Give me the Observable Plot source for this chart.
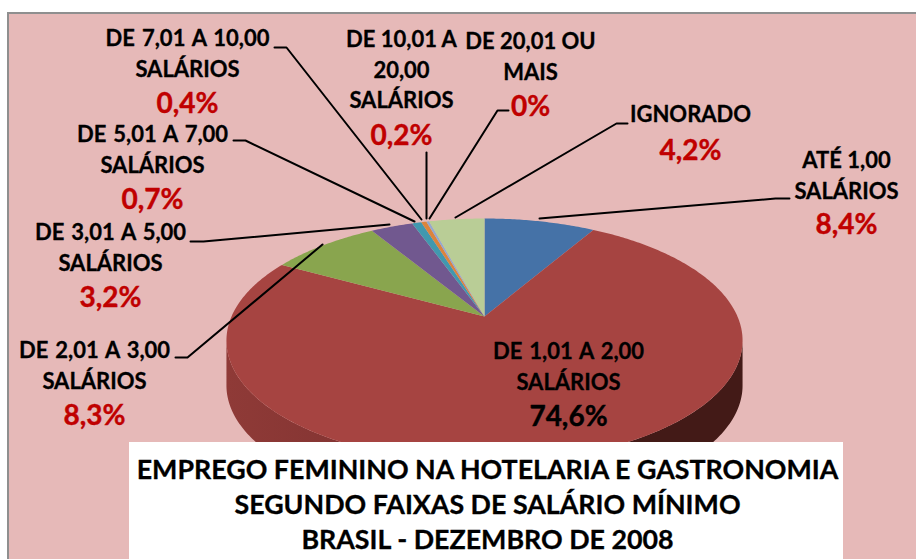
<!DOCTYPE html>
<html>
<head>
<meta charset="utf-8">
<script src="https://cdn.jsdelivr.net/npm/d3@7"></script>
<script src="https://cdn.jsdelivr.net/npm/@observablehq/plot@0.6"></script>
<style>
html,body{margin:0;padding:0;background:#fff;}
svg{display:block;}
.wide text{word-spacing:1.7px;}
</style>
</head>
<body>
<div id="chart"></div>
<script>
// Data
const categories = ["ATÉ 1,00 SALÁRIOS","DE 1,01 A 2,00 SALÁRIOS","DE 2,01 A 3,00 SALÁRIOS","DE 3,01 A 5,00 SALÁRIOS","DE 5,01 A 7,00 SALÁRIOS","DE 7,01 A 10,00 SALÁRIOS","DE 10,01 A 20,00 SALÁRIOS","DE 20,01 OU MAIS","IGNORADO"];
const shares = [8.4,74.6,8.3,3.2,0.7,0.4,0.2,0,4.2];
const shareLabels = ["8,4%","74,6%","8,3%","3,2%","0,7%","0,4%","0,2%","0%","4,2%"];
const sliceColors = ["#4572A7","#A64441","#89A54E","#71588F","#4198AF","#DB843D","#93A9CF","#D19392","#B9CD96"];
const titleLines = ["EMPREGO FEMININO NA HOTELARIA E GASTRONOMIA","SEGUNDO FAIXAS DE SALÁRIO MÍNIMO","BRASIL - DEZEMBRO DE 2008"];

// Layout of annotations (text lines per category, and leader elbows)
const labelLines = [
  {i:0,lines:["ATÉ 1,00","SALÁRIOS"],x:846,y:[160,191],py:225},
  {i:1,lines:["DE 1,01 A 2,00","SALÁRIOS"],x:568,y:[351,382],py:417,dark:true},
  {i:2,lines:["DE 2,01 A 3,00","SALÁRIOS"],x:94,y:[350,381],py:416},
  {i:3,lines:["DE 3,01 A 5,00","SALÁRIOS"],x:110,y:[232,263],py:298},
  {i:4,lines:["DE 5,01 A 7,00","SALÁRIOS"],x:152,y:[134,165],py:200},
  {i:5,lines:["DE 7,01 A 10,00","SALÁRIOS"],x:187,y:[38,69],py:104},
  {i:6,lines:["DE 10,01 A","20,00","SALÁRIOS"],x:401,y:[39,70,100],py:136},
  {i:7,lines:["DE 20,01 OU","MAIS"],x:530,y:[41,72],py:107},
  {i:8,lines:["IGNORADO"],x:690,y:[114],py:151}
];
const leaders = [
  {i:0,points:[[539,218],[775,198],[789,198]]},
  {i:2,points:[[322,244],[187,357],[175,357]]},
  {i:3,points:[[389,224],[203,241],[190,241]]},
  {i:4,points:[[414,221],[245,140],[233,140]]},
  {i:5,points:[[421,219],[286,47],[274,47]]},
  {i:6,points:[[426,218],[426,152]]},
  {i:7,points:[[429,218],[497,110],[508,110]]},
  {i:8,points:[[455,217],[616,123],[627,123]]}
];

// Perspective pie projection
const cx = 484, cy = 316, sx = 253, sy = 117.3, k = 0.197, drop = 45;
function project(theta, r = 1) {
  const u = r * Math.sin(theta), v = r * Math.cos(theta), w = 1 + k * v;
  return [cx + sx * u / w, cy - sy * v / w];
}
const total = d3.sum(shares);
const cum = d3.cumsum(shares);
const slices = [];
shares.forEach((s, i) => {
  if (s <= 0) return;
  const a0 = ((cum[i] - s) / total) * 2 * Math.PI;
  const a1 = (cum[i] / total) * 2 * Math.PI;
  const n = Math.max(2, Math.ceil((a1 - a0) * 90));
  slices.push({name: categories[i], x: cx, y: cy});
  for (let j = 0; j <= n; j++) {
    const [x, y] = project(a0 + (a1 - a0) * j / n);
    slices.push({name: categories[i], x, y});
  }
});
const side = [];
const tR = Math.acos(-k), tL = 2 * Math.PI - tR;
for (let j = 0; j <= 200; j++) {
  const [x, y] = project(tR + (tL - tR) * j / 200);
  side.push({x, y: y + drop});
}
for (let j = 200; j >= 0; j--) {
  const [x, y] = project(tR + (tL - tR) * j / 200);
  side.push({x, y});
}
const leaderRows = leaders.flatMap(l => l.points.map(p => ({i: l.i, x: p[0], y: p[1]})));
const labelRows = labelLines.flatMap(l => l.lines.map((t, n) => ({t, x: l.x, y: l.y[n]})));
const isWide = d => /\d A \d/.test(d.t);
const pctRows = labelLines.map(l => ({t: shareLabels[l.i], x: l.x, y: l.py, dark: !!l.dark}));
const titleRows = titleLines.map((t, n) => ({t, n}));
const titleY = [470, 505, 540];

const sideGradient = () => {
  const s = d3.create("svg:defs");
  const g = s.append("linearGradient").attr("id", "sideGrad").attr("x1", 0).attr("x2", 1).attr("y1", 0).attr("y2", 0);
  [[0, "#8f3a37"], [0.22, "#853533"], [0.55, "#5c2421"], [0.8, "#431a17"], [1, "#431a17"]].forEach(([o, c]) =>
    g.append("stop").attr("offset", o).attr("stop-color", c));
  return s.node();
};

const font = "Lato, Carlito, sans-serif";
const labelStyle = {x: "x", y: "y", text: "t", fill: "#000", stroke: "#000", strokeWidth: 0.3, fontSize: 22, fontWeight: 700, textAnchor: "middle", lineAnchor: "middle"};
const plot = Plot.plot({
  width: 916, height: 559, margin: 0,
  x: {domain: [0, 916], range: [0, 916], axis: null},
  y: {domain: [0, 559], range: [0, 559], axis: null},
  color: {domain: categories, range: sliceColors},
  style: {background: "#fff", fontFamily: font},
  marks: [
    sideGradient,
    Plot.rect([0], {x1: 7, x2: 916, y1: 12, y2: 559, fill: "#8f8f8f"}),
    Plot.rect([0], {x1: 9, x2: 916, y1: 14, y2: 559, fill: "#E6B9B8"}),
    Plot.line(side, {x: "x", y: "y", fill: "url(#sideGrad)", stroke: "none"}),
    Plot.line(slices, {x: "x", y: "y", z: "name", fill: "name", stroke: "none", curve: "linear"}),
    Plot.line(leaderRows, {x: "x", y: "y", z: "i", stroke: "#000", strokeWidth: 2, curve: "linear"}),
    Plot.text(labelRows.filter(d => !isWide(d)), labelStyle),
    Plot.text(labelRows.filter(isWide), {...labelStyle, className: "wide"}),
    Plot.text(pctRows, {x: "x", y: "y", text: "t", fill: d => d.dark ? "#000" : "#C00000", stroke: d => d.dark ? "#000" : "#C00000", strokeWidth: 0.4, fontSize: 28, fontWeight: 700, textAnchor: "middle", lineAnchor: "middle"}),
    Plot.rect([0], {x1: 129, x2: 843, y1: 442, y2: 559, fill: "#fff"}),
    Plot.text(titleRows, {x: () => 487, y: d => titleY[d.n], text: "t", fill: "#000", stroke: "#000", strokeWidth: 0.3, fontSize: 26.8, fontWeight: 700, textAnchor: "middle", lineAnchor: "middle"})
  ]
});
document.getElementById("chart").appendChild(plot);
</script>
</body>
</html>
